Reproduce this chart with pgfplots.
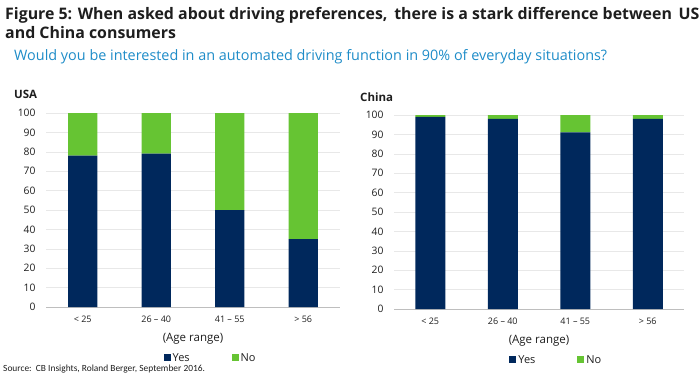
\documentclass[border=0pt]{standalone}
\usepackage{fontspec}
\setmainfont{Open Sans}
\newfontfamily\titlefont{Carlito}
\usepackage{pgfplots}
\pgfplotsset{compat=1.18}
\definecolor{navy}{RGB}{0,40,92}
\definecolor{grn}{RGB}{102,196,51}
\definecolor{subc}{RGB}{30,140,200}
\definecolor{gridc}{RGB}{232,232,232}
\definecolor{axc}{RGB}{190,190,190}
\definecolor{txt}{RGB}{30,30,30}
\pgfplotsset{
  panel/.style={
    scale only axis, height=194pt,
    ybar stacked, bar width=29pt,
    ymin=0, ymax=100, ytick={0,10,...,100},
    xmin=-0.5, xmax=3.5, xtick={0,1,2,3},
    xticklabels={< 25, 26 -- 40, 41 -- 55, > 56},
    extra x ticks={-0.5,0.5,1.5,2.5,3.5},
    extra x tick labels={},
    extra x tick style={grid=none, major tick length=5pt, tick align=outside, tick style={draw=axc, line width=0.6pt}},
    axis lines*=left,
    y axis line style={draw=none},
    x axis line style={draw=axc, line width=0.8pt},
    xtick style={draw=none}, ytick style={draw=none},
    ymajorgrids, grid style={draw=gridc, line width=0.6pt},
    /pgf/number format/assume math mode=true,
    tick label style={font=\fontsize{10.3}{12}\selectfont, text=txt},
    yticklabel style={xshift=-7pt},
    xticklabel style={font=\fontsize{9}{11}\selectfont, yshift=-5pt},
    xlabel={(Age range)},
    every axis x label/.style={at={(axis description cs:0.5,0)}, anchor=center, yshift=-32pt, font=\fontsize{11.5}{13}\selectfont, text=txt},
    legend columns=2,
    legend style={at={(0.56,-0.262)}, anchor=center, draw=none, fill=none, font=\fontsize{11}{13}\selectfont, text=txt, /tikz/every even column/.append style={column sep=40pt}},
    legend image code/.code={\fill[##1] (0pt,-3.5pt) rectangle (7pt,3.5pt);},
  }
}
\begin{document}
\begin{tikzpicture}
\useasboundingbox (0,0) rectangle (700pt,-380pt);
\node[anchor=base west, inner sep=0, font=\bfseries\fontsize{15.9}{17}\selectfont, text=txt] at (5pt,-19pt) {Figure 5: When asked about driving preferences,\, there is a stark difference between\, US};
\node[anchor=base west, inner sep=0, font=\bfseries\fontsize{15.9}{17}\selectfont, text=txt] at (5pt,-38pt) {and China consumers};
\node[anchor=base west, inner sep=0, font=\fontsize{14.4}{16}\selectfont, text=subc] at (14pt,-60pt) {Would you be interested in an automated driving function in 90\% of everyday situations?};
\node[anchor=base west, inner sep=0, font=\bfseries\fontsize{11.5}{13}\selectfont, text=txt] at (14pt,-98pt) {USA};
\node[anchor=base west, inner sep=0, font=\bfseries\fontsize{11.5}{13}\selectfont, text=txt] at (360pt,-101pt) {China};
\node[anchor=base west, inner sep=0, font=\titlefont\fontsize{9.4}{11}\selectfont, text=txt] at (3pt,-371pt) {Source:\ \ CB Insights, Roland Berger, September 2016.};
\begin{axis}[panel, width=294pt, at={(46pt,-307pt)}, anchor=south west]
\addplot[fill=navy, draw=none] coordinates {(0,78) (1,79) (2,50) (3,35)};
\addlegendentry{Yes}
\addplot[fill=grn, draw=none] coordinates {(0,22) (1,21) (2,50) (3,65)};
\addlegendentry{No}
\end{axis}
\begin{axis}[panel, width=290pt, bar width=30pt, at={(394pt,-309pt)}, anchor=south west]
\addplot[fill=navy, draw=none] coordinates {(0,99) (1,98) (2,91) (3,98)};
\addlegendentry{Yes}
\addplot[fill=grn, draw=none] coordinates {(0,1) (1,2) (2,9) (3,2)};
\addlegendentry{No}
\end{axis}
\end{tikzpicture}
\end{document}
